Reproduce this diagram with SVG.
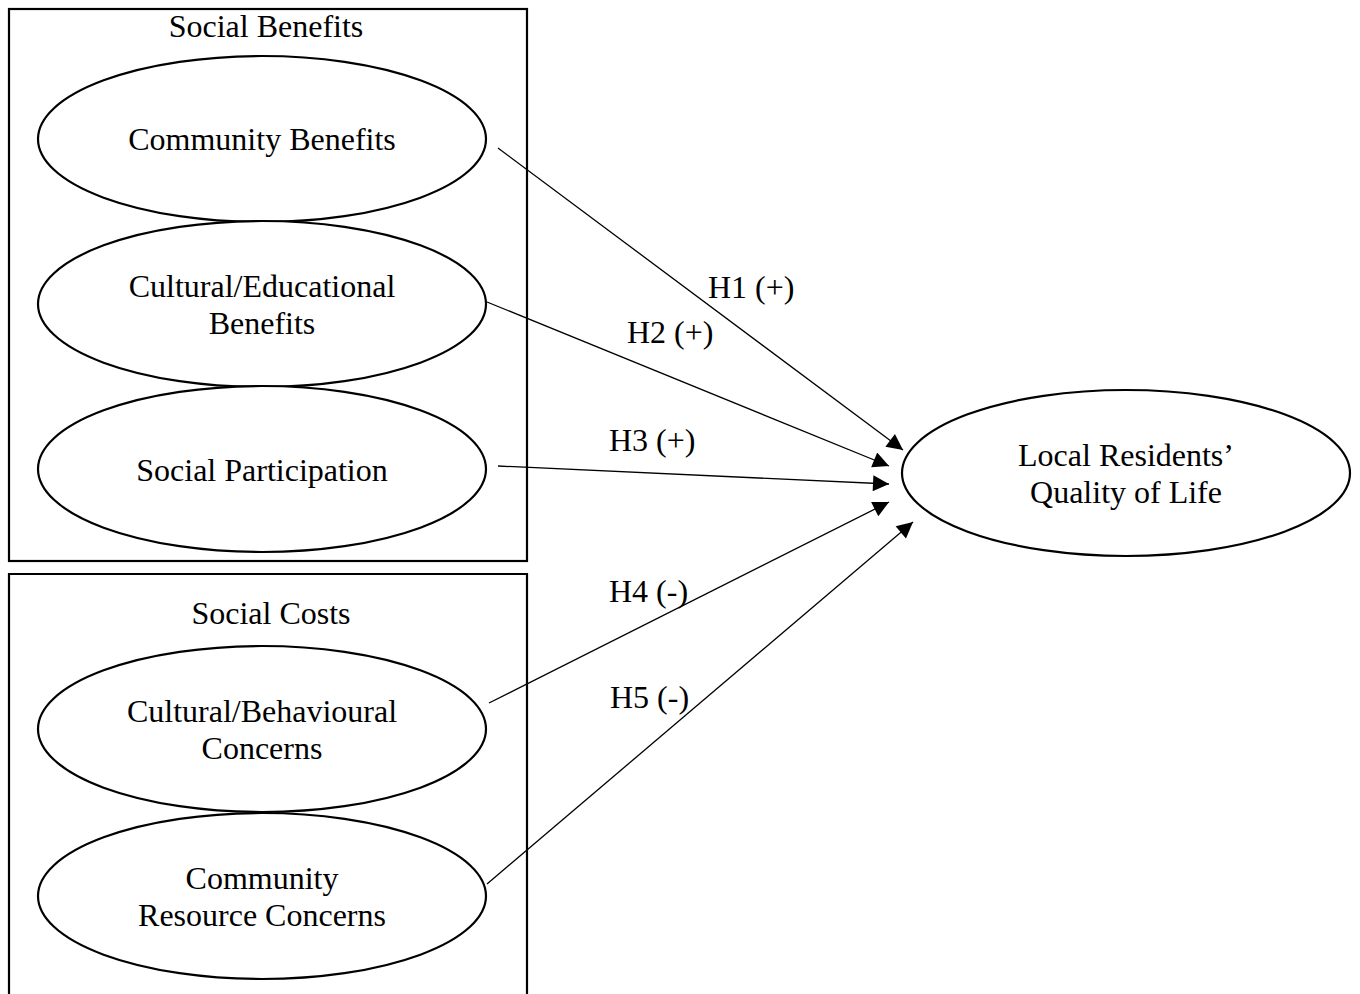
<svg xmlns="http://www.w3.org/2000/svg" width="1360" height="994" viewBox="0 0 1360 994">
<style>
text{font-family:"Liberation Serif","Times New Roman",serif;font-size:32px;fill:#000;text-anchor:middle}
.box{fill:none;stroke:#000;stroke-width:2.2}
.ell{fill:#fff;stroke:#000;stroke-width:2.2}
.lbl{text-anchor:start}
.con line{stroke:#000;stroke-width:1.3;marker-end:url(#ah)}
</style>
<defs>
<marker id="ah" viewBox="0 0 10 10" refX="10" refY="5" markerWidth="19" markerHeight="16" markerUnits="userSpaceOnUse" orient="auto">
<path d="M0,0 L10,5 L0,10 z" fill="#000"/>
</marker>
</defs>
<rect fill="#fff" x="0" y="0" width="1360" height="994"/>
<g id="social-benefits">
<rect class="box" x="9" y="9" width="518" height="552"/>
<text x="266" y="37">Social Benefits</text>
</g>
<g id="social-costs">
<path class="box" d="M9,1000 V574 H527 V1000"/>
<text x="271" y="624">Social Costs</text>
</g>
<g id="community-benefits">
<ellipse class="ell" cx="262" cy="139" rx="224" ry="83"/>
<text x="262" y="150">Community Benefits</text>
</g>
<g id="cultural-educational">
<ellipse class="ell" cx="262" cy="304" rx="224" ry="83"/>
<text x="262" y="297">Cultural/Educational</text>
<text x="262" y="334">Benefits</text>
</g>
<g id="social-participation">
<ellipse class="ell" cx="262" cy="469" rx="224" ry="83"/>
<text x="262" y="481">Social Participation</text>
</g>
<g id="cultural-behavioural">
<ellipse class="ell" cx="262" cy="729" rx="224" ry="83"/>
<text x="262" y="722">Cultural/Behavioural</text>
<text x="262" y="759">Concerns</text>
</g>
<g id="community-resource">
<ellipse class="ell" cx="262" cy="896" rx="224" ry="83"/>
<text x="262" y="889">Community</text>
<text x="262" y="926">Resource Concerns</text>
</g>
<g id="quality-of-life">
<ellipse class="ell" cx="1126" cy="473" rx="224" ry="83"/>
<text x="1126" y="466">Local Residents’</text>
<text x="1126" y="503">Quality of Life</text>
</g>
<g id="connectors" class="con">
<line x1="498" y1="148" x2="903" y2="450"/>
<line x1="487" y1="302" x2="889" y2="466"/>
<line x1="498" y1="466" x2="889" y2="484"/>
<line x1="489" y1="703" x2="889" y2="502"/>
<line x1="487" y1="884" x2="913" y2="522"/>
</g>
<g id="labels">
<text class="lbl" x="708" y="298">H1 (+)</text>
<text class="lbl" x="627" y="343">H2 (+)</text>
<text class="lbl" x="609" y="451">H3 (+)</text>
<text class="lbl" x="609" y="602">H4 (-)</text>
<text class="lbl" x="610" y="708">H5 (-)</text>
</g>
</svg>
